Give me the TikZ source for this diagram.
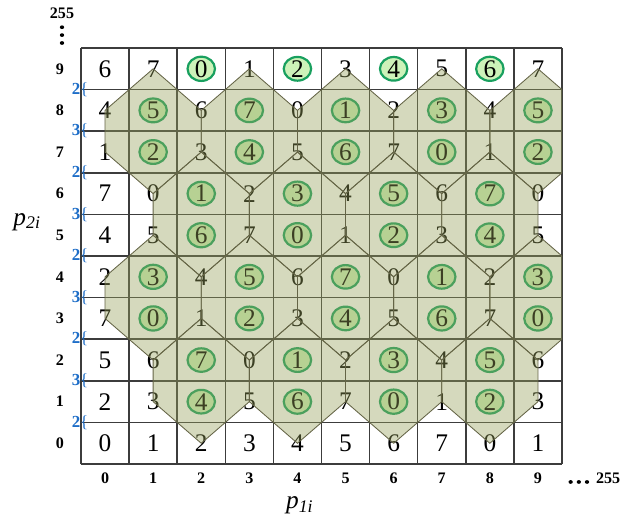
\documentclass[tikz,border=0pt]{standalone}
\usepackage{fontspec}
\setmainfont{Liberation Serif}
\usetikzlibrary{shapes.geometric}

\definecolor{ringline}{RGB}{25,160,95}
\definecolor{ringfill}{RGB}{205,242,185}
\definecolor{hexfill}{RGB}{150,160,90}
\definecolor{hexline}{RGB}{100,100,70}
\definecolor{stepblue}{RGB}{30,110,200}
\definecolor{gridline}{RGB}{60,60,60}

\begin{document}
\begin{tikzpicture}[x=1cm, y=0.865cm,
    num/.style={font=\fontsize{15}{18}\selectfont, inner sep=0pt},
    ring/.style={ellipse, draw=ringline, line width=1.3pt, fill=ringfill, minimum width=0.57cm, minimum height=0.41cm, inner sep=0pt},
    axlbl/.style={font=\fontsize{9.5}{11}\selectfont\bfseries, inner sep=0pt},
    steplbl/.style={font=\fontsize{10}{12}\selectfont, text=stepblue, inner sep=0pt},
    hex/.style={fill=hexfill, fill opacity=0.4, draw=hexline, line width=0.5pt},
    dotmark/.style={fill=black}
]
    \fill[white] (-1.684,-1.274) rectangle (11.289,11.154);
    \useasboundingbox (-1.684,-1.274) rectangle (11.289,11.154);

    % --- 1. grid ---
    \foreach \i in {0,...,10} {
      \draw[gridline, line width=0.9pt] (\i,0) -- (\i,10);
      \draw[gridline, line width=0.9pt] (0,\i) -- (10,\i);
    }

    % --- 2. cell values ---
    \foreach \y in {0,...,9} {
      \foreach \x in {0,...,9} {
        \pgfmathtruncatemacro{\v}{mod(\x+floor(2.5*\y),8)}
        \pgfmathtruncatemacro{\g}{mod(floor((\y+1)/2),2)}
        \pgfmathtruncatemacro{\isring}{(\y>0)*(\x>0)*(mod(\x+\g,2)==1)}
        \ifnum\isring=1
          \node[ring, num] (c\x\y) at (\x+0.5,\y+0.5) {\v};
        \else
          \node[num] (c\x\y) at (\x+0.5,\y+0.5) {\v};
        \fi
      }
    }

    % --- 3. hexagons ---
    \begin{scope}
      \clip (0,0) rectangle (10,10);
      \foreach \c/\r in {1/7,3/7,5/7,7/7,9/7, 2/5,4/5,6/5,8/5,
                         1/3,3/3,5/3,7/3,9/3, 2/1,4/1,6/1,8/1}
        \draw[hex] (\c+0.5,\r+2.5) -- (\c+1.5,\r+1.5) -- (\c+1.5,\r+0.5)
          -- (\c+0.5,\r-0.5) -- (\c-0.5,\r+0.5) -- (\c-0.5,\r+1.5) -- cycle;
    \end{scope}

    % --- 4. steps between rows ---
    \foreach \i/\s in {1/2,2/3,3/2,4/3,5/2,6/3,7/2,8/3,9/2}
      \node[steplbl] (s\i) at (-0.02,\i) {\textbf{\s}\{};

    % --- 5. axes ---
    \foreach \i in {0,...,9} {
      \node[axlbl] (r\i) at (-0.437,\i+0.5) {\i};
      \node[axlbl] (k\i) at (\i+0.5,-0.337) {\i};
    }
    \node[axlbl] (rtop) at (-0.395,10.84) {255};
    \foreach \d in {0,1,2}
      \fill[dotmark] (-0.395,10.5-0.19*\d) circle (0.045);
    \foreach \d in {0,1,2}
      \fill[dotmark] (10.18+0.17*\d,-0.43) circle (0.045);
    \node[axlbl] (kend) at (10.96,-0.337) {255};

    \node[font=\fontsize{15}{18}\selectfont] (p1) at (4.55,-0.986) {\textit{p}\textsubscript{\textit{1i}}};
    \node[font=\fontsize{15}{18}\selectfont] (p2) at (-1.12,5.82) {\textit{p}\textsubscript{\textit{2i}}};
\end{tikzpicture}
\end{document}
